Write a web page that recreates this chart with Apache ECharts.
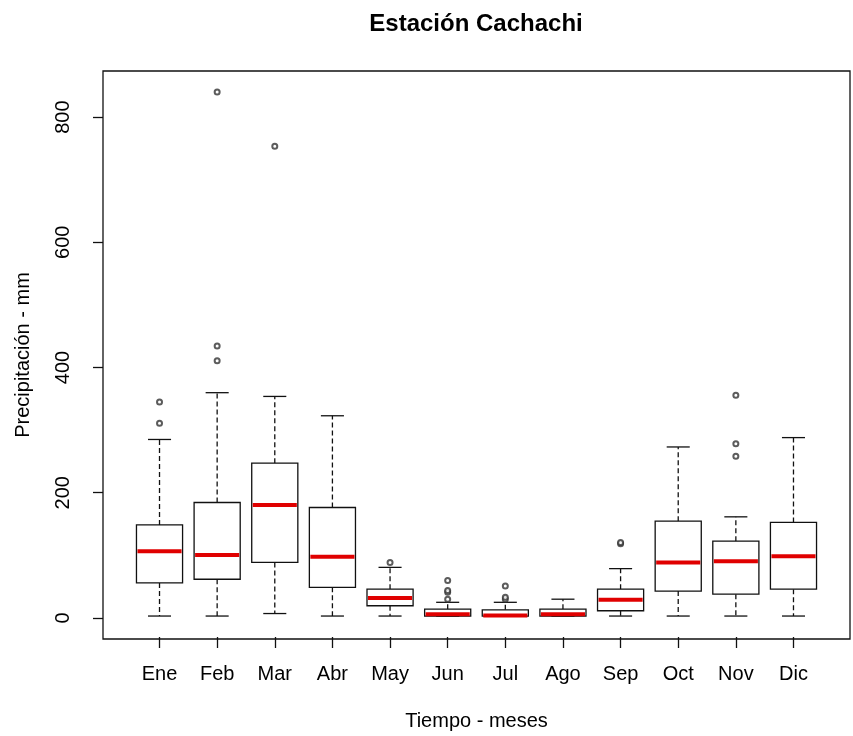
<!DOCTYPE html>
<html>
<head>
<meta charset="utf-8">
<script src="https://cdn.jsdelivr.net/npm/echarts@6/dist/echarts.min.js"></script>
<style>
html,body{margin:0;padding:0;background:#fff;}
#chart{width:853px;height:736px;}
</style>
</head>
<body>
<div id="chart"></div>
<script>
const months = ['Ene','Feb','Mar','Abr','May','Jun','Jul','Ago','Sep','Oct','Nov','Dic'];
const whiskerLow  = [0, 0, 4, 0, 0, 0, 0, 0, 0, 0, 0, 0];
const quart1      = [53, 59, 86, 46, 16.5, 0, 0, 0, 8.5, 40, 35, 43];
const medianVals  = [104, 98, 178, 95, 29, 3, 1, 3, 26, 86, 88, 96];
const quart3      = [146, 182, 245, 174, 43, 11, 10, 11, 43, 152, 120, 150];
const whiskerHigh = [283, 358, 352, 321, 78, 22, 22, 27, 76, 271, 159, 286];
const outlierMonth = ['Ene','Ene','Feb','Feb','Feb','Mar','May','Jun','Jun','Jun','Jun','Jul','Jul','Jul','Sep','Sep','Nov','Nov','Nov'];
const outlierValue = [309, 343, 409, 433, 840, 753, 86, 27, 38, 41, 57, 27, 30, 48, 116, 118, 256, 276, 354];
const yTicks = [0, 200, 400, 600, 800];

const boxData = months.map((m, i) => [i, whiskerLow[i], quart1[i], medianVals[i], quart3[i], whiskerHigh[i]]);
const outlierData = outlierMonth.map((m, i) => [m, outlierValue[i]]);

const FONT = '"Liberation Sans", Arial, sans-serif';
const INK = '#111';

function renderBox(params, api) {
  const idx = api.value(0);
  const lo = api.coord([idx, api.value(1)]);
  const q1 = api.coord([idx, api.value(2)]);
  const md = api.coord([idx, api.value(3)]);
  const q3 = api.coord([idx, api.value(4)]);
  const hi = api.coord([idx, api.value(5)]);
  const band = api.size([1, 0])[0];
  const half = band * 0.4;
  const cap = band * 0.2;
  const x = md[0];
  const solid = {stroke: INK, lineWidth: 1.3, fill: null};
  const dashed = {stroke: INK, lineWidth: 1.3, lineDash: [5, 3], fill: null};
  return {
    type: 'group',
    children: [
      {type: 'line', shape: {x1: x, y1: q3[1], x2: x, y2: hi[1]}, style: dashed},
      {type: 'line', shape: {x1: x, y1: q1[1], x2: x, y2: lo[1]}, style: dashed},
      {type: 'line', shape: {x1: x - cap, y1: hi[1], x2: x + cap, y2: hi[1]}, style: solid},
      {type: 'line', shape: {x1: x - cap, y1: lo[1], x2: x + cap, y2: lo[1]}, style: solid},
      {type: 'rect', shape: {x: x - half, y: q3[1], width: half * 2, height: q1[1] - q3[1]}, style: {stroke: INK, lineWidth: 1.3, fill: '#fff'}},
      {type: 'line', shape: {x1: x - half + 1, y1: md[1], x2: x + half - 1, y2: md[1]}, style: {stroke: '#e00000', lineWidth: 4}}
    ]
  };
}

const chart = echarts.init(document.getElementById('chart'), null, {renderer: 'canvas'});
chart.setOption({
  backgroundColor: '#fff',
  animation: false,
  title: {
    text: 'Estación Cachachi',
    left: 476, textAlign: 'center', top: 12, padding: 0,
    textStyle: {fontFamily: FONT, fontSize: 24, fontWeight: 'bold', color: '#000'}
  },
  grid: [
    {left: 103, right: 3, top: 71, bottom: 97, show: true, borderColor: INK, borderWidth: 1.3, backgroundColor: 'transparent'},
    {left: 130.7, right: 30.7, top: 71, bottom: 97}
  ],
  xAxis: [
    {type: 'value', gridIndex: 0, min: 0, max: 1, show: false},
    {
      type: 'category', gridIndex: 1, data: months,
      axisLine: {show: false, onZero: false},
      axisTick: {show: true, inside: false, alignWithLabel: true, length: 11, lineStyle: {color: INK, width: 1.3}},
      axisLabel: {fontFamily: FONT, fontSize: 20, color: '#000', margin: 27},
      splitLine: {show: false},
      name: 'Tiempo - meses', nameLocation: 'middle', nameGap: 74,
      nameTextStyle: {fontFamily: FONT, fontSize: 20, color: '#000'}
    }
  ],
  yAxis: [
    {
      type: 'value', gridIndex: 0, min: -33.6, max: 873.6,
      axisLine: {show: false, onZero: false},
      axisTick: {show: true, length: 10, customValues: yTicks, lineStyle: {color: INK, width: 1.3}},
      axisLabel: {rotate: 90, customValues: yTicks, fontFamily: FONT, fontSize: 20, color: '#000', margin: 30},
      splitLine: {show: false},
      name: 'Precipitación - mm', nameLocation: 'middle', nameGap: 70, nameRotate: 90,
      nameTextStyle: {fontFamily: FONT, fontSize: 20, color: '#000'}
    },
    {type: 'value', gridIndex: 1, min: -33.6, max: 873.6, show: false}
  ],
  series: [
    {
      type: 'custom', xAxisIndex: 1, yAxisIndex: 1,
      renderItem: renderBox,
      encode: {x: 0, y: [1, 2, 3, 4, 5]},
      data: boxData,
      z: 2
    },
    {
      type: 'scatter', xAxisIndex: 1, yAxisIndex: 1,
      symbol: 'emptyCircle', symbolSize: 5,
      itemStyle: {color: '#333', borderColor: '#333', borderWidth: 1},
      data: outlierData,
      z: 3
    }
  ]
});
</script>
</body>
</html>
